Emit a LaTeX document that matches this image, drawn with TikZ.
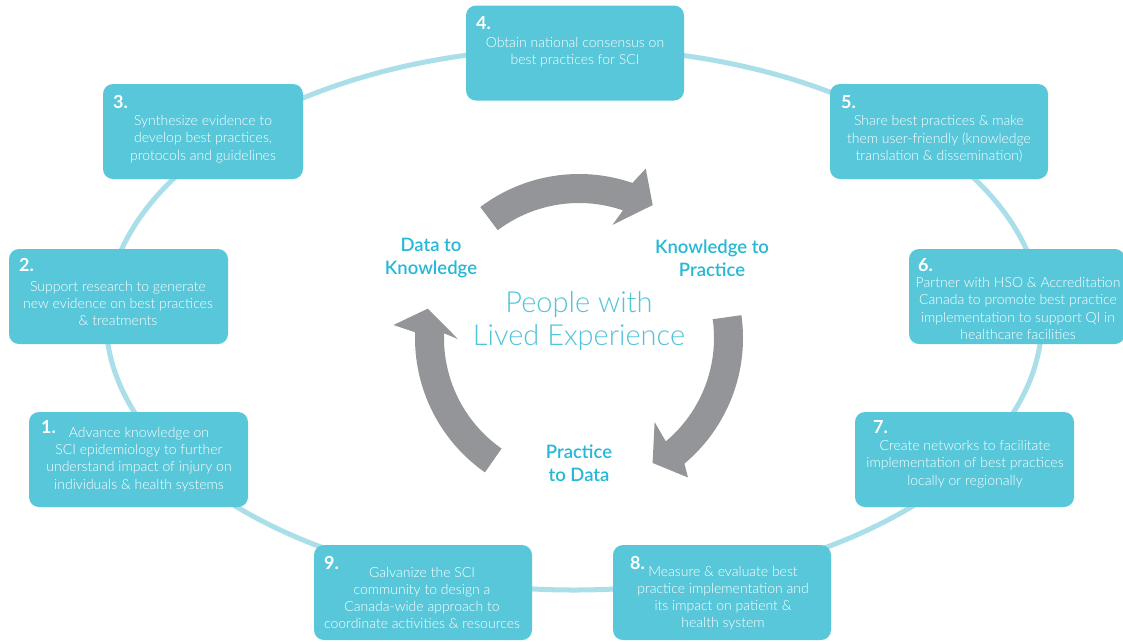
\documentclass[tikz,border=0pt]{standalone}
\usepackage{fontspec}
\setmainfont{Lato}
\newfontfamily\lightfont{Lato Light}
\newfontfamily\semifont{Lato Semibold}
\usetikzlibrary{calc}
\definecolor{boxc}{RGB}{88,199,217}
\definecolor{ringc}{RGB}{170,223,234}
\definecolor{arrc}{RGB}{147,149,152}
\definecolor{labc}{RGB}{38,184,214}
\definecolor{pplc}{RGB}{80,195,219}
\def\Rout{164}
\def\Rin{135}
\newcommand\grayarrow[8]{%
  \fill[arrc] ($(C)+(#1:\Rout)$) arc[start angle=#1, end angle=#2, radius=\Rout]
    -- ($(C)+(#3:#5)$) -- ($(C)+(#7:#8)$) -- ($(C)+(#4:#6)$)
    -- ($(C)+(#2:\Rin)$) arc[start angle=#2, end angle=#1, radius=\Rin] -- cycle;}
\begin{document}
\begin{tikzpicture}[x=1pt,y=1pt,
  stepbox/.style={fill=boxc, rounded corners=10pt, draw=none, inner sep=0pt,
    minimum width=#1, minimum height=95},
  stepbox/.default=218,
  bodytxt/.style={text=white, align=center, inner sep=0pt,
    font=\lightfont\fontsize{14}{17.2}\selectfont},
  numtxt/.style={text=white, inner sep=0pt, anchor=west,
    font=\fontsize{18}{20}\selectfont\bfseries},
  lab/.style={text=labc, align=center, inner sep=0pt,
    font=\semifont\fontsize{18.5}{23}\selectfont},
  ppl/.style={text=pplc, align=center, inner sep=0pt,
    font=\lightfont\fontsize{29}{33}\selectfont}]
\useasboundingbox (0,0) rectangle (1123,-641);
\fill[white] (0,0) rectangle (1123,-641);
% ring
\draw[ringc, line width=5pt] (574,-319) ellipse [x radius=468, y radius=271];
% boxes
\node[stepbox] (b4) at (575,-53) {};
\node[stepbox=200] (b3) at (203,-131.5) {};
\node[stepbox] (b5) at (939,-131.5) {};
\node[stepbox=219] (b2) at (118.5,-296.5) {};
\node[stepbox=216] (b6) at (1017,-296.5) {};
\node[stepbox=219] (b1) at (138.5,-459.5) {};
\node[stepbox=219] (b7) at (964.5,-459.5) {};
\node[stepbox] (b9) at (423,-592.5) {};
\node[stepbox] (b8) at (722,-592.5) {};
% numbers
\node[numtxt] (n4) at (476,-23) {4.};
\node[numtxt] (n3) at (113,-102) {3.};
\node[numtxt] (n5) at (841,-102) {5.};
\node[numtxt] (n2) at (19,-265) {2.};
\node[numtxt] (n6) at (918,-265) {6.};
\node[numtxt] (n1) at (41,-427) {1.};
\node[numtxt] (n7) at (873,-427) {7.};
\node[numtxt] (n9) at (324,-563) {9.};
\node[numtxt] (n8) at (630,-563) {8.};
% texts
\node[bodytxt] (t4) at (575,-52.5) {Obtain national consensus on\\best practices for SCI};
\node[bodytxt] (t3) at (203,-139) {Synthesize evidence to\\develop best practices,\\protocols and guidelines};
\node[bodytxt] (t5) at (939,-139) {Share best practices \& make\\them user-friendly (knowledge\\translation \& dissemination)};
\node[bodytxt] (t2) at (118,-303.5) {Support research to generate\\new evidence on best practices\\\& treatments};
\node[bodytxt] (t6) at (1018,-308.5) {Partner with HSO \& Accreditation\\Canada to promote best practice\\implementation to support QI in\\healthcare facilities};
\node[bodytxt] (t1) at (139,-459.5) {Advance knowledge on\\SCI epidemiology to further\\understand impact of injury on\\individuals \& health systems};
\node[bodytxt] (t7) at (965,-464) {Create networks to facilitate\\implementation of best practices\\locally or regionally};
\node[bodytxt] (t9) at (422,-598) {Galvanize the SCI\\community to design a\\Canada-wide approach to\\coordinate activities \& resources};
\node[bodytxt] (t8) at (723,-598) {Measure \& evaluate best\\practice implementation and\\its impact on patient \&\\health system};
% center cycle
\coordinate (C) at (579,-338);
\grayarrow{127}{71}{68.5}{73.5}{182}{118}{61}{152}
\grayarrow{8}{-50}{-52}{-48}{177}{113}{-59.5}{145}
\grayarrow{235}{178}{176}{180.5}{186}{121}{169}{154}
\node[lab] (d2k) at (431,-258) {Data to\\Knowledge};
\node[lab] (k2p) at (712,-258) {Knowledge to\\Practice};
\node[lab] (p2d) at (579,-463) {Practice\\to Data};
\node[ppl] (ple) at (579,-321) {People with\\Lived Experience};
\end{tikzpicture}
\end{document}
